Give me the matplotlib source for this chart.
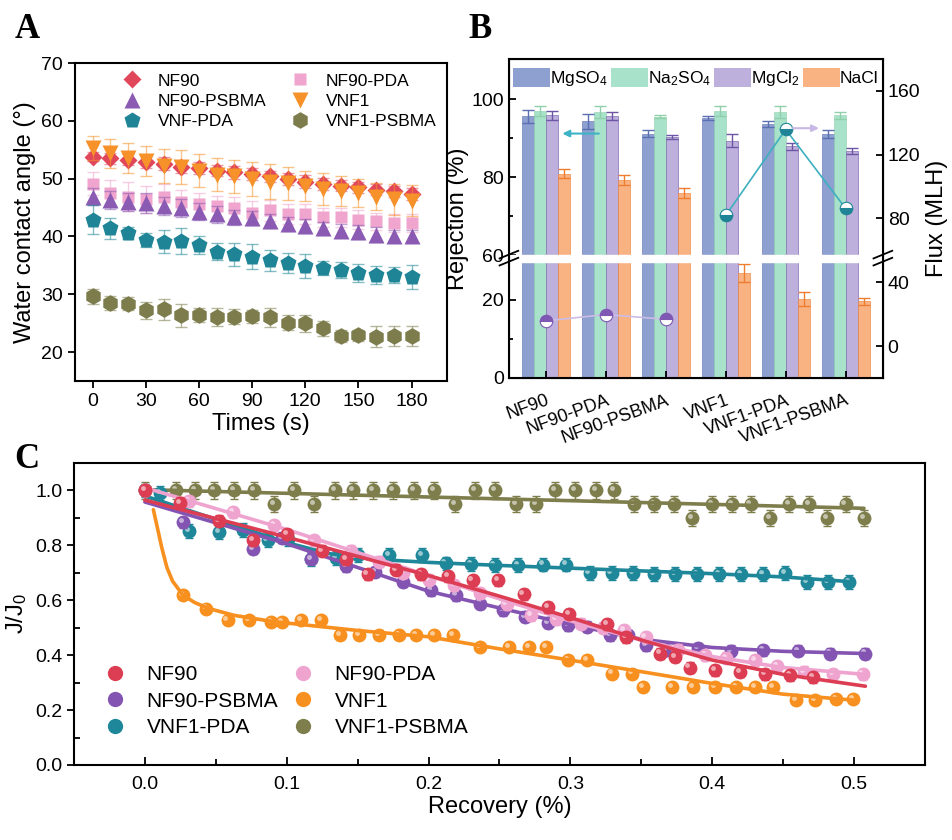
import numpy as np
import matplotlib
matplotlib.use("Agg")
import matplotlib.pyplot as plt
from matplotlib.patches import Patch
from matplotlib.lines import Line2D
from matplotlib.transforms import offset_copy

plt.rcParams['font.family'] = ['Liberation Sans', 'DejaVu Sans']
plt.rcParams['mathtext.default'] = 'regular'

# ---------- panel A: water contact angle ----------
times = [0, 10, 20, 30, 40, 50, 60, 70, 80, 90, 100, 110, 120, 130, 140, 150, 160, 170, 180]
wca_nf90 = [53.8, 53.5, 53.3, 52.9, 52.6, 52.0, 51.8, 51.4, 51.1, 50.8, 50.4, 49.9, 49.5, 49.1, 48.8, 48.5, 48.1, 47.8, 47.3]
wca_nf90_pda = [49.1, 47.5, 46.9, 46.4, 46.9, 46.0, 45.6, 45.2, 44.9, 44.1, 44.5, 43.9, 43.9, 43.3, 43.3, 42.9, 42.6, 42.3, 42.3]
wca_nf90_psbma = [46.9, 46.3, 46.0, 45.8, 45.3, 44.9, 44.3, 43.8, 43.3, 43.2, 42.6, 42.1, 41.8, 41.4, 41.0, 40.7, 40.3, 40.1, 40.1]
wca_vnf1 = [55.3, 54.4, 53.5, 53.0, 52.2, 52.0, 51.4, 50.7, 50.4, 49.9, 49.5, 49.2, 48.8, 48.2, 47.8, 47.5, 46.9, 46.4, 46.2]
wca_vnf_pda = [42.9, 41.4, 40.6, 39.4, 39.1, 39.2, 38.5, 37.4, 36.9, 36.5, 35.9, 35.4, 34.9, 34.5, 34.2, 33.7, 33.3, 33.3, 33.0]
wca_vnf1_psbma = [29.7, 28.5, 28.4, 27.2, 27.4, 26.4, 26.4, 26.1, 26.1, 26.2, 26.0, 25.1, 25.0, 24.1, 22.8, 22.9, 22.7, 22.8, 22.8]

err_nf90 = [0.8, 0.9, 1.0, 1.0, 1.1, 1.0, 1.0, 1.0, 1.1, 1.1, 1.0, 1.0, 1.1, 1.0, 1.0, 1.0, 1.0, 0.9, 1.0]
err_nf90_pda = [2.0, 2.3, 2.5, 2.4, 2.2, 2.0, 2.0, 1.8, 1.9, 2.0, 1.8, 1.7, 1.8, 1.7, 1.6, 1.6, 1.5, 1.5, 1.6]
err_nf90_psbma = [1.4, 1.5, 1.6, 1.7, 1.6, 1.6, 1.5, 1.4, 1.3, 1.2, 1.2, 1.2, 1.2, 1.1, 1.1, 1.2, 1.3, 1.1, 1.1]
err_vnf1 = [2.0, 2.5, 2.6, 2.6, 3.0, 3.0, 2.8, 2.9, 2.9, 2.9, 3.1, 2.9, 2.6, 2.8, 2.6, 2.4, 2.3, 2.7, 2.7]
err_vnf_pda = [2.5, 1.8, 1.1, 1.2, 2.0, 2.2, 1.5, 1.5, 2.0, 2.2, 1.8, 1.8, 2.0, 1.2, 1.4, 1.6, 1.6, 1.4, 2.1]
err_vnf1_psbma = [1.3, 1.2, 1.2, 1.5, 1.8, 2.0, 1.2, 1.6, 1.3, 1.1, 1.6, 1.3, 1.5, 1.3, 1.0, 0.9, 1.8, 1.8, 1.8]

# ---------- panel B: rejection and flux ----------
membranes = ['NF90', 'NF90-PDA', 'NF90-PSBMA', 'VNF1', 'VNF1-PDA', 'VNF1-PSBMA']
salts = ['MgSO$_4$', 'Na$_2$SO$_4$', 'MgCl$_2$', 'NaCl']
rej_mgso4 = [95.6, 94.3, 91.2, 95.2, 93.6, 91.0]
rej_na2so4 = [96.9, 96.7, 95.5, 96.9, 96.7, 95.9]
rej_mgcl2 = [95.9, 95.6, 90.3, 89.4, 88.0, 86.7]
rej_nacl = [80.9, 79.4, 75.9, 27.0, 20.2, 19.6]
rej_err_mgso4 = [1.7, 2.0, 0.8, 0.5, 0.7, 1.0]
rej_err_na2so4 = [1.3, 1.5, 0.4, 1.3, 1.5, 0.9]
rej_err_mgcl2 = [1.2, 1.0, 0.5, 1.6, 0.9, 0.8]
rej_err_nacl = [1.1, 1.3, 1.3, 2.3, 1.8, 0.8]
flux = [15.8, 19.8, 16.8, 81.9, 135.8, 86.3]
flux_err = [2.5, 2.0, 2.0, 3.0, 2.0, 2.5]

# ---------- panel C: normalised flux vs recovery ----------
x_nf90 = [0, 0.025, 0.052, 0.076, 0.1, 0.125, 0.142, 0.157, 0.177, 0.195, 0.2136, 0.231, 0.249,
          0.267, 0.284, 0.299, 0.326, 0.339, 0.363, 0.3735, 0.384, 0.402, 0.4195, 0.437, 0.455, 0.471]
y_nf90 = [1.0, 0.955, 0.89, 0.818, 0.84, 0.78, 0.75, 0.694, 0.711, 0.694, 0.687, 0.673, 0.673,
          0.622, 0.574, 0.55, 0.513, 0.465, 0.406, 0.394, 0.355, 0.345, 0.339, 0.33, 0.327, 0.32]
x_nf90_pda = [0, 0.031, 0.062, 0.091, 0.1195, 0.145, 0.165, 0.182, 0.2, 0.218, 0.236, 0.255, 0.2724,
              0.29, 0.3076, 0.323, 0.338, 0.353, 0.376, 0.395, 0.41, 0.43, 0.446, 0.465, 0.485, 0.506]
y_nf90_pda = [1.0, 0.96, 0.921, 0.873, 0.818, 0.78, 0.74, 0.70, 0.675, 0.655, 0.625, 0.585, 0.545,
              0.53, 0.515, 0.50, 0.49, 0.466, 0.42, 0.40, 0.39, 0.382, 0.36, 0.339, 0.331, 0.331]
x_nf90_psbma = [0, 0.0266, 0.076, 0.0967, 0.117, 0.1418, 0.162, 0.182, 0.202, 0.2195, 0.236, 0.2524, 0.268,
                0.284, 0.2983, 0.312, 0.3277, 0.3406, 0.3536, 0.3677, 0.39, 0.4135, 0.436, 0.4606, 0.4829, 0.5076]
y_nf90_psbma = [1.0, 0.885, 0.788, 0.827, 0.7515, 0.724, 0.703, 0.667, 0.636, 0.618, 0.588, 0.564, 0.54,
                0.5176, 0.509, 0.503, 0.473, 0.473, 0.436, 0.418, 0.425, 0.416, 0.418, 0.416, 0.406, 0.406]
x_vnf1 = [0, 0.0266, 0.043, 0.0583, 0.0736, 0.089, 0.0967, 0.110, 0.124, 0.1376, 0.151, 0.165, 0.1795,
          0.191, 0.204, 0.217, 0.236, 0.257, 0.271, 0.283, 0.2983, 0.312, 0.3296, 0.3436, 0.351, 0.3719,
          0.3865, 0.4018, 0.4171, 0.430, 0.443, 0.4594, 0.4723, 0.487, 0.499]
y_vnf1 = [1.0, 0.618, 0.570, 0.527, 0.527, 0.521, 0.521, 0.527, 0.527, 0.475, 0.475, 0.475, 0.475,
          0.475, 0.475, 0.475, 0.43, 0.43, 0.43, 0.43, 0.382, 0.382, 0.333, 0.333, 0.285, 0.285,
          0.285, 0.285, 0.285, 0.285, 0.285, 0.236, 0.236, 0.239, 0.239]
x_vnf1_pda = [0, 0.011, 0.031, 0.052, 0.069, 0.0865, 0.1006, 0.117, 0.135, 0.150, 0.172, 0.1955, 0.212,
              0.230, 0.2465, 0.263, 0.281, 0.297, 0.3135, 0.329, 0.344, 0.359, 0.374, 0.3895, 0.405,
              0.4206, 0.436, 0.4516, 0.467, 0.4817, 0.4966]
y_vnf1_pda = [1.0, 0.99, 0.852, 0.848, 0.857, 0.82, 0.824, 0.751, 0.755, 0.764, 0.764, 0.764, 0.734,
              0.731, 0.728, 0.728, 0.73, 0.73, 0.699, 0.699, 0.699, 0.697, 0.697, 0.697, 0.697,
              0.697, 0.697, 0.699, 0.667, 0.667, 0.667]
x_vnf1_psbma = [0, 0.022, 0.0355, 0.049, 0.063, 0.077, 0.091, 0.105, 0.119, 0.134, 0.147, 0.161, 0.175,
                0.190, 0.204, 0.219, 0.233, 0.247, 0.262, 0.276, 0.289, 0.303, 0.318, 0.331, 0.345, 0.359,
                0.373, 0.386, 0.400, 0.414, 0.427, 0.441, 0.454, 0.468, 0.481, 0.494, 0.507]
y_vnf1_psbma = [1.0, 1.0, 1.0, 1.0, 1.0, 1.0, 0.95, 1.0, 0.95, 1.0, 1.0, 1.0, 1.0,
                1.0, 1.0, 0.95, 1.0, 1.0, 0.95, 0.95, 1.0, 1.0, 1.0, 1.0, 0.95, 0.95,
                0.95, 0.90, 0.95, 0.95, 0.95, 0.90, 0.95, 0.95, 0.90, 0.95, 0.90]

# fitted curves
fit_x_nf90 = [0, 0.1, 0.2, 0.25, 0.3, 0.35, 0.4, 0.45, 0.508]
fit_y_nf90 = [0.965, 0.83, 0.69, 0.615, 0.537, 0.455, 0.382, 0.33, 0.287]
fit_x_nf90_pda = [0, 0.1, 0.2, 0.25, 0.3, 0.35, 0.4, 0.45, 0.508]
fit_y_nf90_pda = [1.01, 0.858, 0.69, 0.605, 0.525, 0.455, 0.395, 0.355, 0.33]
fit_x_nf90_psbma = [0, 0.1, 0.2, 0.25, 0.3, 0.35, 0.4, 0.45, 0.508]
fit_y_nf90_psbma = [0.958, 0.806, 0.633, 0.572, 0.512, 0.458, 0.428, 0.414, 0.406]
fit_x_vnf1 = [0.006, 0.009, 0.012, 0.0155, 0.0195, 0.0266, 0.035, 0.045, 0.063, 0.091, 0.15, 0.2,
              0.25, 0.3, 0.35, 0.4, 0.45, 0.5]
fit_y_vnf1 = [0.93, 0.86, 0.79, 0.72, 0.67, 0.62, 0.592, 0.57, 0.545, 0.522, 0.49, 0.467,
              0.423, 0.382, 0.34, 0.297, 0.258, 0.236]
fit_x_vnf1_pda = [0, 0.05, 0.1, 0.13, 0.16, 0.2, 0.25, 0.3, 0.35, 0.4, 0.45, 0.497]
fit_y_vnf1_pda = [0.98, 0.895, 0.81, 0.77, 0.75, 0.738, 0.727, 0.717, 0.707, 0.697, 0.685, 0.668]
fit_x_vnf1_psbma = [0, 0.507]
fit_y_vnf1_psbma = [1.003, 0.935]

fig = plt.figure(figsize=(9.53, 8.4), dpi=100)

# ================= A =================
axA = fig.add_axes([0.0787, 0.5464, 0.3903, 0.3786])
series_a = [
    ('NF90', wca_nf90, err_nf90, '#E0475A', 'D', 9),
    ('NF90-PDA', wca_nf90_pda, err_nf90_pda, '#EFA5CD', 's', 9),
    ('NF90-PSBMA', wca_nf90_psbma, err_nf90_psbma, '#8B5BB4', '^', 11),
    ('VNF1', wca_vnf1, err_vnf1, '#F7922A', 'v', 11),
    ('VNF-PDA', wca_vnf_pda, err_vnf_pda, '#1F8596', 'p', 12),
    ('VNF1-PSBMA', wca_vnf1_psbma, err_vnf1_psbma, '#7D7C4C', 'h', 12),
]
handles_a = {}
for name, vals, errs, col, mk, ms in series_a:
    axA.errorbar(times, vals, yerr=errs, fmt='none', ecolor=col, alpha=0.55,
                 elinewidth=1, capsize=4)
    h, = axA.plot(times, vals, linestyle='none', marker=mk, ms=ms, color=col,
                  markeredgecolor='none', label=name)
    handles_a[name] = h
axA.set_xlim(-10, 200)
axA.set_ylim(15, 70)
axA.set_xticks([0, 30, 60, 90, 120, 150, 180])
axA.set_yticks([20, 30, 40, 50, 60, 70])
axA.tick_params(labelsize=14, width=1.3, length=5)
for s in axA.spines.values():
    s.set_linewidth(1.5)
axA.set_xlabel('Times (s)', fontsize=17, labelpad=2)
axA.set_ylabel('Water contact angle (°)', fontsize=17, labelpad=4)
order_a = ['NF90', 'NF90-PSBMA', 'VNF-PDA', 'NF90-PDA', 'VNF1', 'VNF1-PSBMA']
axA.legend([handles_a[k] for k in order_a], order_a, ncol=2, frameon=False,
           fontsize=12.5, loc='upper right', bbox_to_anchor=(1.0, 1.0),
           handlelength=1.2, handletextpad=0.9, columnspacing=1.3, labelspacing=0.3,
           borderaxespad=0.2)
fig.text(0.015, 0.955, 'A', fontsize=25, fontweight='bold', family='Liberation Serif')

# ================= B =================
def fwd(y):
    y = np.asarray(y, dtype=float)
    return np.where(y <= 30, y, np.where(y >= 60, y - 28.6, 30 + (y - 30) * 1.4 / 30))


def inv(f):
    f = np.asarray(f, dtype=float)
    return np.where(f <= 30, f, np.where(f >= 31.4, f + 28.6, 30 + (f - 30) * 30 / 1.4))


axB = fig.add_axes([0.534, 0.55, 0.3924, 0.3798])
axB.set_yscale('function', functions=(fwd, inv))
xpos = np.arange(len(membranes))
bw = 0.2
bar_sets = [
    (rej_mgso4, rej_err_mgso4, '#8DA0CF', '#5B6FB3'),
    (rej_na2so4, rej_err_na2so4, '#A9E2CB', '#8FCFA9'),
    (rej_mgcl2, rej_err_mgcl2, '#BDB0DC', '#6E55A6'),
    (rej_nacl, rej_err_nacl, '#F9B383', '#EE7D2F'),
]
for i, (vals, errs, fc, ec) in enumerate(bar_sets):
    xs = xpos + (i - 1.5) * bw
    axB.bar(xs, vals, width=bw, color=fc, edgecolor=ec, linewidth=0.4)
    axB.errorbar(xs, vals, yerr=errs, fmt='none', ecolor=ec, elinewidth=1, capsize=4)
axB.set_xlim(-0.615, 5.62)
axB.set_ylim(0, 110.3)
axB.set_yticks([0, 20, 60, 80, 100])
axB.set_yticks([10, 70, 90], minor=True)
axB.set_xticks(xpos)
axB.set_xticklabels(membranes, rotation=20, ha='right', rotation_mode='anchor', fontsize=13)
axB.tick_params(axis='both', which='both', direction='in', width=1.3)
axB.tick_params(axis='y', labelsize=14, length=5)
axB.tick_params(axis='y', which='minor', length=3)
axB.tick_params(axis='x', length=5, pad=10)
for s in axB.spines.values():
    s.set_linewidth(1.5)
axB.set_ylabel('Rejection (%)', fontsize=17, labelpad=2)

# break band
axB.axhspan(29.7, 60.1, color='white', zorder=2.2)
yb = float(fwd(45.0)) / float(fwd(110.3))
for xe in (0.0, 1.0):
    for dy in (-0.011, 0.011):
        axB.plot([xe - 0.025, xe + 0.025], [yb + dy - 0.012, yb + dy + 0.012],
                 transform=axB.transAxes, color='black', lw=1.3, clip_on=False, zorder=5)

axB.annotate('', xy=(0.23, 91.2), xytext=(0.93, 91.2),
             arrowprops=dict(arrowstyle='-|>', color='#3DB3C6', lw=1.5, mutation_scale=10))

leg_handles = [Patch(facecolor=c[2]) for c in bar_sets]
axB.legend(leg_handles, salts, ncol=4, loc='upper center', bbox_to_anchor=(0.5, 1.0),
           frameon=False, fontsize=12.5, handlelength=2.1, handleheight=1.3,
           handletextpad=0.0, columnspacing=0.2, borderaxespad=0.3, borderpad=0.2)

axF = axB.twinx()
axF.set_ylim(-20, 180)
axF.set_yticks([0, 40, 80, 120, 160])
axF.tick_params(axis='y', direction='in', labelsize=14, width=1.3, length=5)
axF.set_ylabel('Flux (MLH)', fontsize=17, labelpad=4)
axF.plot(xpos[:3], flux[:3], color='#CBBDE6', lw=1.2)
axF.plot(xpos[3:], flux[3:], color='#3DAFBF', lw=1.2)
axF.errorbar(xpos[:3], flux[:3], yerr=flux_err[:3], fmt='none', ecolor='#7E58B2', elinewidth=1, capsize=3)
axF.errorbar(xpos[3:], flux[3:], yerr=flux_err[3:], fmt='none', ecolor='#1F8596', elinewidth=1, capsize=3)
axF.plot(xpos[:3], flux[:3], linestyle='none', marker='o', ms=9, fillstyle='top',
         color='#7E58B2', markerfacecoloralt='white', markeredgecolor='#7E58B2', markeredgewidth=0.8)
axF.plot(xpos[3:], flux[3:], linestyle='none', marker='o', ms=9, fillstyle='bottom',
         color='#1F8596', markerfacecoloralt='white', markeredgecolor='#1F8596', markeredgewidth=0.8)
axF.annotate('', xy=(4.6, 136.6), xytext=(4.07, 136.6),
             arrowprops=dict(arrowstyle='-|>', color='#C8B8E6', lw=1.5, mutation_scale=10))
fig.text(0.492, 0.955, 'B', fontsize=25, fontweight='bold', family='Liberation Serif')

# ================= C =================
axC = fig.add_axes([0.0776, 0.0893, 0.893, 0.3595])
series_c = [
    ('VNF1-PSBMA', x_vnf1_psbma, y_vnf1_psbma, fit_x_vnf1_psbma, fit_y_vnf1_psbma, '#7E7D4C', 0.03),
    ('VNF1-PDA', x_vnf1_pda, y_vnf1_pda, fit_x_vnf1_pda, fit_y_vnf1_pda, '#1E8799', 0.025),
    ('VNF1', x_vnf1, y_vnf1, fit_x_vnf1, fit_y_vnf1, '#F7901E', 0.015),
    ('NF90-PSBMA', x_nf90_psbma, y_nf90_psbma, fit_x_nf90_psbma, fit_y_nf90_psbma, '#8454B2', 0.02),
    ('NF90-PDA', x_nf90_pda, y_nf90_pda, fit_x_nf90_pda, fit_y_nf90_pda, '#EFA3CF', 0.02),
    ('NF90', x_nf90, y_nf90, fit_x_nf90, fit_y_nf90, '#DC3D52', 0.02),
]
hl = offset_copy(axC.transData, fig=fig, x=-1.5, y=1.5, units='points')
handles_c = {}
for name, xs, ys, fx, fy, col, e in series_c:
    axC.errorbar(xs, ys, yerr=e, fmt='none', ecolor=col, elinewidth=1, capsize=3)
    axC.plot(xs, ys, linestyle='none', marker='o', ms=10, color=col, markeredgecolor='none')
    axC.plot(xs, ys, linestyle='none', marker='o', ms=3.5, color='white', alpha=0.55,
             markeredgecolor='none', transform=hl)
    axC.plot(fx, fy, color=col, lw=2.6, solid_capstyle='round')
    handles_c[name] = Line2D([], [], linestyle='none', marker='o', ms=11, color=col,
                             markeredgecolor='none')
axC.set_xlim(-0.05, 0.55)
axC.set_ylim(0, 1.1)
axC.set_xticks([0.0, 0.1, 0.2, 0.3, 0.4, 0.5])
axC.set_xticks([0.05, 0.15, 0.25, 0.35, 0.45], minor=True)
axC.set_yticks([0.0, 0.2, 0.4, 0.6, 0.8, 1.0])
axC.set_yticks([0.1, 0.3, 0.5, 0.7, 0.9], minor=True)
axC.tick_params(axis='x', which='both', direction='in', labelsize=14, width=1.3, pad=8)
axC.tick_params(axis='x', which='major', length=6)
axC.tick_params(axis='x', which='minor', length=4)
axC.tick_params(axis='y', which='major', direction='out', labelsize=14, width=1.3, length=5)
axC.tick_params(axis='y', which='minor', direction='in', width=1.3, length=4)
for s in axC.spines.values():
    s.set_linewidth(1.5)
axC.set_xlabel('Recovery (%)', fontsize=17, labelpad=2)
axC.set_ylabel('J/J$_0$', fontsize=17, labelpad=4)
order_c = ['NF90', 'NF90-PSBMA', 'VNF1-PDA', 'NF90-PDA', 'VNF1', 'VNF1-PSBMA']
axC.legend([handles_c[k] for k in order_c], order_c, ncol=2, frameon=False, fontsize=15,
           loc='lower left', bbox_to_anchor=(0.0266, 0.065), handlelength=1.0,
           handletextpad=1.0, columnspacing=0.7, labelspacing=0.35, borderaxespad=0)
fig.text(0.015, 0.443, 'C', fontsize=25, fontweight='bold', family='Liberation Serif')

fig.savefig('out.png', dpi=100)
